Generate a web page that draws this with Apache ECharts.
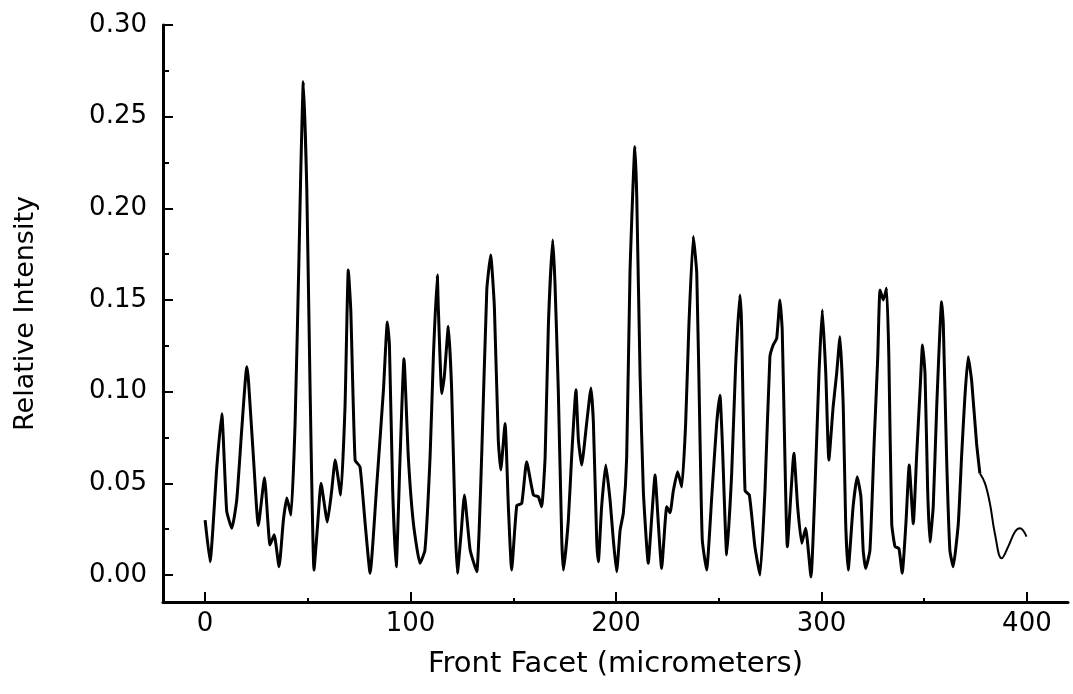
<!DOCTYPE html>
<html>
<head>
<meta charset="utf-8">
<script src="https://cdn.jsdelivr.net/npm/echarts@6/dist/echarts.min.js"></script>
<style>html,body{margin:0;padding:0;background:#fff;}#c{width:1073px;height:694px;}</style>
</head>
<body>
<div id="c"></div>
<script>
// Front facet position (micrometers) and relative intensity
var posMain = [0, 2.4, 5.7, 8.1, 10.5, 13, 15.4, 17.8, 20.3, 21.1, 23.5, 25.9, 28.9, 31.6, 33.6, 36, 38.1, 39.8, 41.8, 43.8, 45.7, 46.6, 47.8, 49.5, 51.1, 53, 54.8, 56.4, 59.5, 61.6, 63.3, 66, 68.1, 69.7, 70.9, 73, 75.4, 77.9, 80.3, 83.6, 86.8, 88.7, 89.7, 91.3, 93, 94.9, 96.8, 98.9, 101.4, 104.6, 107, 109.5, 111.1, 113, 113.5, 115.2, 116.4, 118.4, 120, 121.7, 122.8, 124.6, 126.2, 129, 132.2, 134.6, 137.1, 139, 140.8, 142.7, 143.9, 146, 147.6, 149.2, 151.7, 154.1, 156.5, 159.8, 162.2, 163.8, 165.5, 167.1, 169.2, 170.3, 171.9, 173.6, 174.4, 176.8, 178.4, 180.5, 181.7, 183.3, 185.7, 187.8, 189, 190.6, 191.4, 193, 195, 197.1, 198.7, 200.3, 202, 203.6, 205.2, 206.8, 209.2, 210.1, 211.7, 213.3, 215.7, 217.4, 219, 220.6, 222.2, 224.7, 226.3, 227.9, 230, 232, 233.9, 235.5, 237.6, 239.3, 240.9, 242, 244.1, 246.6, 249, 250.6, 251.7, 253.9, 256.3, 258.2, 260.3, 261.1, 262.8, 264.9, 267.6, 270.1, 272.5, 274.9, 276.5, 278.2, 279.8, 280.9, 282.2, 283.4, 286.6, 288.4, 290.4, 292.3, 294.9, 296.8, 298.8, 300.4, 302.1, 303.6, 305.7, 307.4, 309, 310.6, 311.8, 313, 315.4, 317.4, 319.2, 320.3, 321.5, 323.6, 325.7, 327.4, 328.5, 330.1, 331.7, 332.8, 334.2, 335.8, 337.7, 339.3, 341.1, 342.7, 344.7, 346.3, 348, 349.2, 350.4, 351.7, 352.8, 354.4, 356.1, 358.5, 359.3, 360.9, 362.5, 364.1, 366.6, 368.2, 369.8, 371.4, 373.1, 375.5, 377.1];
var intMain = [0.030, 0.0073, 0.059, 0.088, 0.035, 0.0255, 0.041, 0.079, 0.1136, 0.106, 0.0645, 0.027, 0.053, 0.0164, 0.022, 0.0045, 0.030, 0.042, 0.0327, 0.083, 0.174, 0.222, 0.269, 0.21, 0.101, 0.0027, 0.028, 0.050, 0.029, 0.046, 0.0627, 0.0436, 0.092, 0.1664, 0.1446, 0.0627, 0.059, 0.028, 0.001, 0.050, 0.101, 0.138, 0.126, 0.046, 0.0045, 0.0645, 0.118, 0.0645, 0.028, 0.0064, 0.0136, 0.0645, 0.119, 0.1637, 0.146, 0.099, 0.108, 0.1355, 0.101, 0.028, 0.001, 0.0227, 0.0436, 0.0136, 0.0018, 0.0645, 0.1555, 0.1746, 0.146, 0.0736, 0.0573, 0.0827, 0.0373, 0.0027, 0.038, 0.039, 0.0618, 0.0436, 0.0427, 0.0373, 0.0645, 0.137, 0.1827, 0.159, 0.101, 0.019, 0.0027, 0.030, 0.0645, 0.101, 0.0736, 0.060, 0.0827, 0.102, 0.0827, 0.019, 0.0073, 0.0373, 0.060, 0.041, 0.019, 0.0018, 0.0245, 0.034, 0.0645, 0.1646, 0.2337, 0.206, 0.110, 0.046, 0.0064, 0.0318, 0.0545, 0.028, 0.0036, 0.0373, 0.034, 0.046, 0.0564, 0.048, 0.0827, 0.137, 0.1846, 0.1646, 0.0736, 0.019, 0.0027, 0.0427, 0.0827, 0.098, 0.0736, 0.011, 0.0555, 0.1136, 0.1527, 0.137, 0.046, 0.0436, 0.0155, 0.000, 0.046, 0.119, 0.1255, 0.129, 0.150, 0.1337, 0.0645, 0.0155, 0.0664, 0.0373, 0.0173, 0.0255, -0.001, 0.046, 0.110, 0.1446, 0.110, 0.0627, 0.092, 0.110, 0.130, 0.092, 0.028, 0.0027, 0.0373, 0.0536, 0.0427, 0.0136, 0.0036, 0.0136, 0.0736, 0.119, 0.1555, 0.150, 0.1564, 0.119, 0.028, 0.0155, 0.0145, 0.001, 0.028, 0.060, 0.028, 0.0645, 0.101, 0.1255, 0.110, 0.046, 0.018, 0.0373, 0.092, 0.149, 0.137, 0.0645, 0.0136, 0.0045, 0.028, 0.0645, 0.097, 0.119, 0.106, 0.0718, 0.0555];
var posTail = [377.1, 379.6, 382, 384.4, 387.7, 390.9, 394.2, 396.6, 399.8];
var intTail = [0.0555, 0.050, 0.039, 0.0227, 0.0091, 0.0155, 0.0236, 0.0255, 0.021];

var xTickLabels = [0, 100, 200, 300, 400];
var xMinorTicks = [50, 150, 250, 350];
var yTickLabels = [0, 0.05, 0.1, 0.15, 0.2, 0.25, 0.3];
var yMinorTicks = [0.025, 0.075, 0.125, 0.175, 0.225, 0.275];

function pairs(xs, ys) { return xs.map(function (x, i) { return [x, ys[i]]; }); }

var FONT = 'DejaVu Sans';
var chart = echarts.init(document.getElementById('c'), null, { renderer: 'canvas' });
chart.setOption({
  backgroundColor: '#ffffff',
  animation: false,
  grid: { left: 163, right: 5, top: 25, bottom: 92, containLabel: false },
  xAxis: [{
    type: 'value', min: -20.5, max: 420,
    name: 'Front Facet (micrometers)', nameLocation: 'middle', nameGap: 48,
    nameTextStyle: { fontFamily: FONT, fontSize: 29, color: '#000' },
    axisLine: { show: true, onZero: false, lineStyle: { color: '#000', width: 3 } },
    axisTick: { show: true, inside: true, length: 10, customValues: xTickLabels, lineStyle: { color: '#000', width: 2 } },
    axisLabel: { customValues: xTickLabels, margin: 9, fontFamily: FONT, fontSize: 26, color: '#000' },
    splitLine: { show: false }
  }, {
    type: 'value', min: -20.5, max: 420, position: 'bottom',
    axisLine: { show: false, onZero: false },
    axisTick: { show: true, inside: true, length: 4, customValues: xMinorTicks, lineStyle: { color: '#000', width: 2 } },
    axisLabel: { show: false }, splitLine: { show: false }
  }],
  yAxis: [{
    type: 'value', min: -0.0147, max: 0.30,
    name: 'Relative Intensity', nameLocation: 'middle', nameGap: 124,
    nameTextStyle: { fontFamily: FONT, fontSize: 27, color: '#000' },
    axisLine: { show: true, onZero: false, lineStyle: { color: '#000', width: 3 } },
    axisTick: { show: true, inside: true, length: 10, customValues: yTickLabels, lineStyle: { color: '#000', width: 2 } },
    axisLabel: { customValues: yTickLabels, margin: 16, fontFamily: FONT, fontSize: 26, color: '#000',
      formatter: function (v) { return v.toFixed(2); } },
    splitLine: { show: false }
  }, {
    type: 'value', min: -0.0147, max: 0.30, position: 'left',
    axisLine: { show: false, onZero: false },
    axisTick: { show: true, inside: true, length: 6, customValues: yMinorTicks, lineStyle: { color: '#000', width: 2 } },
    axisLabel: { show: false }, splitLine: { show: false }
  }],
  series: [{
    type: 'line', data: pairs(posMain, intMain), xAxisIndex: 0, yAxisIndex: 0,
    showSymbol: false, smooth: 0.15, lineStyle: { color: '#000', width: 3 }, z: 3
  }, {
    type: 'line', data: pairs(posTail, intTail), xAxisIndex: 0, yAxisIndex: 0,
    showSymbol: false, smooth: 0.4, lineStyle: { color: '#000', width: 2 }, z: 3
  }]
});
</script>
</body>
</html>
